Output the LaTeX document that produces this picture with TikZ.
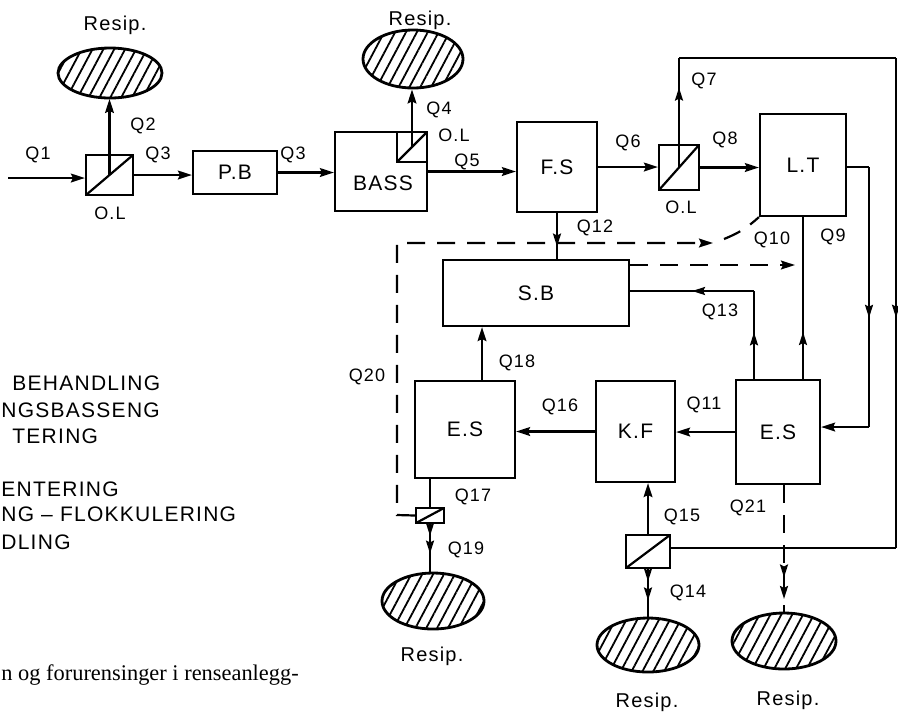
\documentclass[tikz,border=0pt]{standalone}
\usepackage{fontspec}
\setmainfont{Liberation Sans}[LetterSpace=6]
\newfontfamily\brodtekst{Liberation Serif}
\usepackage{tikz}
\usetikzlibrary{arrows.meta,shapes.geometric,patterns.meta,decorations.markings}

\tikzset{
    blokk/.style={draw,line width=1.1pt,inner sep=0pt,font=\fontsize{10.5}{12}\selectfont},
    olboks/.style={draw,line width=1.1pt,inner sep=0pt,
        path picture={\draw[line width=1.1pt] (path picture bounding box.south west) -- (path picture bounding box.north east);}},
    resip/.style={ellipse,draw,line width=1.4pt,inner sep=0pt,
        pattern={Lines[angle=62,distance=4.8pt,line width=0.9pt]}},
    qlbl/.style={inner sep=0pt,font=\fontsize{9}{10}\selectfont},
    rtxt/.style={inner sep=0pt,font=\fontsize{10}{12}\selectfont},
    forklaring/.style={inner sep=0pt,anchor=base west,font=\fontsize{10.5}{12}\selectfont},
    linje/.style={line width=1.1pt},
    pil/.style={line width=1.1pt,-{Stealth[length=7pt,width=4.4pt,inset=1pt]}},
    stiplet/.style={line width=1.1pt,dash pattern=on 9pt off 6pt},
    midtpil/.style={decoration={markings,
        mark=at position #1 with {\arrow{Stealth[length=6.5pt,width=4pt,inset=1pt]}}},postaction={decorate}},
    tostpil/.style 2 args={decoration={markings,
        mark=at position #1 with {\arrow{Stealth[length=6.5pt,width=4pt,inset=1pt]}},
        mark=at position #2 with {\arrow{Stealth[length=6.5pt,width=4pt,inset=1pt]}}},postaction={decorate}}
}

\begin{document}
\begin{tikzpicture}[x=0.5pt,y=-0.5pt]
    \useasboundingbox (0,0) rectangle (898,714);

    % enheter
    \node[olboks,minimum width=23.5pt,minimum height=20pt] (ol1) at (109.5,175) {};
    \node[blokk,minimum width=42pt,minimum height=21.5pt] (pb) at (235,172.5) {P.B};
    \node[blokk,minimum width=46pt,minimum height=39.5pt] (bass) at (381,171.5) {};
    \node[inner sep=0pt,font=\fontsize{10.5}{12}\selectfont] (basstxt) at (383,183) {BASS};
    \node[olboks,minimum size=15pt] (ol2) at (412,147) {};
    \node[blokk,minimum width=40pt,minimum height=45pt] (fs) at (557,167) {F.S};
    \node[olboks,minimum width=20pt,minimum height=22.5pt] (ol3) at (679,167.5) {};
    \node[blokk,minimum width=43pt,minimum height=51pt] (lt) at (803,165) {L.T};
    \node[blokk,minimum width=93pt,minimum height=33pt] (sb) at (536,293) {S.B};
    \node[blokk,minimum width=42pt,minimum height=52pt] (es2) at (778,432) {E.S};
    \node[blokk,minimum width=39.5pt,minimum height=50.5pt] (kf) at (635.5,431.5) {K.F};
    \node[blokk,minimum width=50pt,minimum height=48.5pt] (es1) at (465,429.5) {E.S};
    \node[olboks,minimum width=14pt,minimum height=7.5pt] (ol4) at (430,515.5) {};
    \node[olboks,minimum width=22pt,minimum height=16.5pt] (ol5) at (648,551.5) {};

    % resipienter
    \node[resip,minimum width=52pt,minimum height=25pt] (r1) at (110,73) {};
    \node[resip,minimum width=50pt,minimum height=29pt] (r2) at (413,59) {};
    \node[resip,minimum width=51pt,minimum height=28pt] (r3) at (433,601) {};
    \node[resip,minimum width=51pt,minimum height=27pt] (r4) at (648,645) {};
    \node[resip,minimum width=52pt,minimum height=28pt] (r5) at (784,641) {};
    \node[rtxt] (t1) at (115,25) {Resip.};
    \node[rtxt] (t2) at (420,20) {Resip.};
    \node[rtxt] (t3) at (432,656) {Resip.};
    \node[rtxt] (t4) at (647,702) {Resip.};
    \node[rtxt] (t5) at (788,700) {Resip.};

    % hjelpepunkter
    \coordinate (inn) at (8,178);
    \coordinate (q7a) at (679,58);
    \coordinate (q7b) at (896,58);
    \coordinate (q7c) at (896,548);
    \coordinate (q9a) at (869,167);
    \coordinate (q9b) at (869,427);
    \coordinate (q13) at (754,291);
    \coordinate (q18) at (482,381);
    \coordinate (q20a) at (397,515);
    \coordinate (q20b) at (397,243);
    \coordinate (q20c) at (713,243);
    \coordinate (q20d) at (724,239);
    \coordinate (q10pil) at (795,265);

    % hovedstrom
    \draw[pil] (inn) -- (inn -| ol1.west);
    \draw[pil] (ol1.center) -- (ol1.center |- r1.south);
    \draw[pil] (ol1.east) -- (ol1.east -| pb.west);
    \draw[pil] (pb.east) -- (pb.east -| bass.west);
    \draw[pil] (ol2.center) -- (ol2.center |- r2.south);
    \draw[pil] (bass.east) -- (bass.east -| fs.west);
    \draw[pil] (fs.east) -- (fs.east -| ol3.west);
    \draw[pil] (ol3.east) -- (ol3.east -| lt.west);

    % Q7 forbi
    \draw[linje,midtpil=0.73] (ol3.center) -- (q7a);
    \draw[linje] (q7a) -- (q7b);
    \draw[linje,midtpil=0.53] (q7b) -- (q7c);
    \draw[linje] (q7c) -- (q7c -| ol5.east);

    % Q9, Q10
    \draw[linje] (lt.east |- q9a) -- (q9a);
    \draw[linje,midtpil=0.58] (q9a) -- (q9b);
    \draw[pil] (q9b) -- (q9b -| es2.east);
    \draw[linje,midtpil=0.29] (lt.south |- es2.north) -- (lt.south);

    % slam
    \draw[linje,midtpil=0.73] (fs.south) -- (fs.south |- sb.north);
    \draw[linje,midtpil=0.53] (q13 |- es2.north) -- (q13);
    \draw[linje,midtpil=0.5] (q13) -- (q13 -| sb.east);
    \draw[pil] (es2.west) -- (es2.west -| kf.east);
    \draw[pil] (kf.west) -- (kf.west -| es1.east);
    \draw[pil] (q18) -- (q18 |- sb.south);
    \draw[linje] (es1.south -| ol4.north) -- (ol4.north);
    \draw[linje,tostpil={0.25}{0.62}] (ol4.south) -- (ol4.south |- r3.north);
    \draw[pil] (ol5.north) -- (ol5.north |- kf.south);
    \draw[linje,tostpil={0.26}{0.66}] (ol5.south) -- (ol5.south |- r4.north);

    % stiplet
    \draw[stiplet,-{Stealth[length=7pt,width=4.4pt,inset=1pt]}] (ol4.west) -- (q20a) -- (q20b) -- (q20c);
    \draw[stiplet] (q20d) to[bend right=10] (lt.south west);
    \draw[stiplet,-{Stealth[length=7pt,width=4.4pt,inset=1pt]}] (sb.east |- q10pil) -- (q10pil);
    \draw[stiplet,tostpil={0.73}{0.9}] (r5.north |- es2.south) -- (r5.north);

    % Q-merker
    \node[qlbl] (lq1) at (38,155) {Q1};
    \node[qlbl] (lq2) at (143,126) {Q2};
    \node[qlbl] (lq3) at (158,155) {Q3};
    \node[qlbl] (lq3b) at (293,155) {Q3};
    \node[qlbl] (lq4) at (439,110) {Q4};
    \node[qlbl] (lq5) at (467,162) {Q5};
    \node[qlbl] (lq6) at (628,143) {Q6};
    \node[qlbl] (lq7) at (704,81) {Q7};
    \node[qlbl] (lq8) at (725,140) {Q8};
    \node[qlbl] (lq9) at (833,237) {Q9};
    \node[qlbl] (lq10) at (772,240) {Q10};
    \node[qlbl] (lq11) at (704,405) {Q11};
    \node[qlbl] (lq12) at (595,228) {Q12};
    \node[qlbl] (lq13) at (720,312) {Q13};
    \node[qlbl] (lq14) at (688,593) {Q14};
    \node[qlbl] (lq15) at (682,517) {Q15};
    \node[qlbl] (lq16) at (560,407) {Q16};
    \node[qlbl] (lq17) at (473,497) {Q17};
    \node[qlbl] (lq18) at (517,363) {Q18};
    \node[qlbl] (lq19) at (466,550) {Q19};
    \node[qlbl] (lq20) at (367,377) {Q20};
    \node[qlbl] (lq21) at (748,508) {Q21};
    \node[qlbl] (lol1) at (110,213) {O.L};
    \node[qlbl] (lol2) at (454,135) {O.L};
    \node[qlbl] (lol3) at (681,207) {O.L};

    % forklaring og tekst
    \node[forklaring] (f1) at (12,390) {BEHANDLING};
    \node[forklaring] (f2) at (1,417) {NGSBASSENG};
    \node[forklaring] (f3) at (12,443) {TERING};
    \node[forklaring] (f4) at (1,496) {ENTERING};
    \node[forklaring] (f5) at (1,521) {NG -- FLOKKULERING};
    \node[forklaring] (f6) at (1,549) {DLING};
    \node[forklaring,font=\brodtekst\fontsize{11.2}{13}\selectfont] (fig) at (1,680) {n og forurensinger i renseanlegg-};
\end{tikzpicture}
\end{document}
